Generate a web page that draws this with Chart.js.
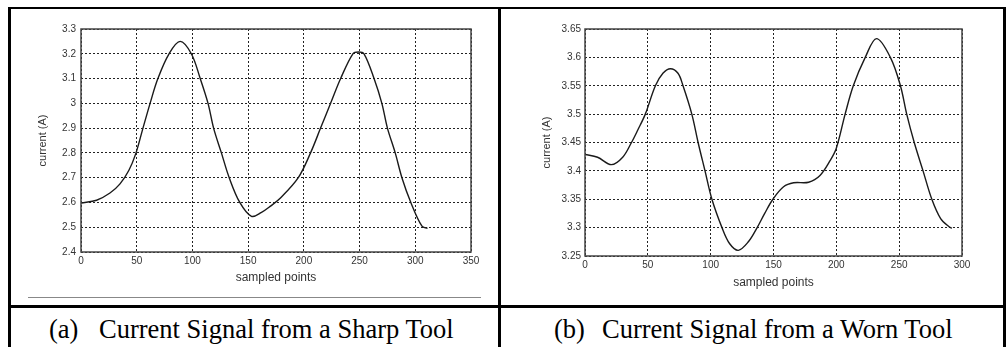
<!DOCTYPE html>
<html>
<head>
<meta charset="utf-8">
<script src="https://cdn.jsdelivr.net/npm/chart.js@4.4.1/dist/chart.umd.min.js"></script>
<style>
  html, body { margin: 0; padding: 0; background: #fff; }
  #page { position: relative; width: 1006px; height: 347px; overflow: hidden; }
  .panel { position: absolute; top: 0; height: 300px; }
  .rule { position: absolute; background: #000; z-index: 2; }
  .cap {
    position: absolute; top: 316px;
    font-family: "Liberation Serif", "Times New Roman", serif;
    font-size: 26.5px; line-height: 1; color: #000; white-space: nowrap;
  }
</style>
</head>
<body>
<div id="page">
  <div class="panel" style="left:0;width:500px"><canvas id="chartSharp"></canvas></div>
  <div class="panel" style="left:500px;width:506px"><canvas id="chartWorn"></canvas></div>

  <!-- table rules -->
  <div class="rule" style="left:8px;top:7px;width:998px;height:2px"></div>
  <div class="rule" style="left:8px;top:7px;width:3px;height:340px"></div>
  <div class="rule" style="left:498px;top:7px;width:3px;height:340px"></div>
  <div class="rule" style="left:1003px;top:7px;width:3px;height:340px"></div>
  <div class="rule" style="left:8px;top:305px;width:998px;height:3px"></div>
  <div class="rule" style="left:28px;top:297px;width:453px;height:1px;background:#888"></div>

  <div class="cap" style="left:49px">(a)</div>
  <div class="cap" style="left:99px">Current Signal from a Sharp Tool</div>
  <div class="cap" style="left:554px">(b)</div>
  <div class="cap" style="left:602px">Current Signal from a Worn Tool</div>
</div>

<script>
// sharp tool: sampled point index vs current (A)
const sharpX = [0, 14, 26, 35, 43, 49, 55, 62, 69, 79, 89, 99, 107, 114, 119, 126, 133, 142.5, 153,
  162, 170, 179, 195, 206, 215, 224, 233, 244, 249, 254, 263, 270, 275, 282, 288, 296, 306, 311];
const sharpY = [2.598, 2.609, 2.638, 2.675, 2.73, 2.795, 2.89, 3.0, 3.1, 3.2, 3.25, 3.2, 3.1, 3.0, 2.9, 2.8, 2.7, 2.6, 2.544,
  2.56, 2.585, 2.618, 2.7, 2.8, 2.9, 3.0, 3.1, 3.2, 3.207, 3.2, 3.1, 3.0, 2.9, 2.8, 2.7, 2.6, 2.504, 2.495];

// worn tool
const wornX = [0, 10, 21, 30, 37, 42, 48, 56, 62, 68, 74, 78, 85, 90, 95.5, 101, 109, 115, 122, 130, 137, 143,
  149.5, 158, 166, 178, 187, 195, 200, 207, 213.5, 223, 232, 243, 251, 256, 262, 269, 276, 283, 290, 292];
const wornY = [3.429, 3.424, 3.411, 3.424, 3.45, 3.472, 3.5, 3.55, 3.572, 3.58, 3.572, 3.55, 3.5, 3.45, 3.4, 3.35, 3.3,
  3.272, 3.26, 3.275, 3.3, 3.325, 3.35, 3.372, 3.379, 3.38, 3.392, 3.418, 3.44, 3.5, 3.55, 3.6, 3.633, 3.6, 3.55,
  3.5, 3.45, 3.4, 3.35, 3.316, 3.301, 3.299];

const sharpXTicks = [0, 50, 100, 150, 200, 250, 300, 350];
const sharpYTicks = [2.4, 2.5, 2.6, 2.7, 2.8, 2.9, 3.0, 3.1, 3.2, 3.3];
const wornXTicks = [0, 50, 100, 150, 200, 250, 300];
const wornYTicks = [3.25, 3.3, 3.35, 3.4, 3.45, 3.5, 3.55, 3.6, 3.65];

const xTitle = "sampled points";
const yTitle = "current (A)";

const TICK_FONT = { family: "'Liberation Sans', Arial, sans-serif", size: 10 };
const TITLE_FONT = { family: "'Liberation Sans', Arial, sans-serif", size: 12 };
const YTITLE_FONT = { family: "'Liberation Sans', Arial, sans-serif", size: 11 };

// MATLAB-style box around the axes
const boxPlugin = {
  id: "box",
  afterDatasetsDraw(chart) {
    const { ctx, chartArea: a } = chart;
    ctx.save();
    ctx.strokeStyle = "#444";
    ctx.lineWidth = 1.5;
    ctx.strokeRect(a.left, a.top, a.right - a.left, a.bottom - a.top);
    ctx.restore();
  },
};

function makeChart(id, xs, ys, xTicks, yTicks, lay) {
  const points = xs.map((x, i) => ({ x, y: ys[i] }));
  const fix = (arr) => (scale) => { scale.ticks = arr.map((v) => ({ value: v })); };
  return new Chart(document.getElementById(id), {
    type: "line",
    data: {
      datasets: [{
        data: points,
        borderColor: "#1a1a1a",
        borderWidth: 1.4,
        pointRadius: 0,
        tension: 0.35,
        fill: false,
      }],
    },
    options: {
      responsive: true,
      maintainAspectRatio: false,
      animation: false,
      layout: { padding: { left: 0, top: lay.top, right: lay.right, bottom: 0 } },
      plugins: { legend: { display: false }, tooltip: { enabled: false } },
      scales: {
        x: {
          type: "linear",
          min: xTicks[0],
          max: xTicks[xTicks.length - 1],
          afterBuildTicks: fix(xTicks),
          afterFit: (s) => { s.height = lay.xAxisH; },
          grid: { color: "#222", lineWidth: 1, drawTicks: false },
          border: { display: false, dash: [2, 2] },
          ticks: { color: "#333", font: TICK_FONT, padding: 3, maxRotation: 0 },
          title: { display: true, text: xTitle, color: "#333", font: TITLE_FONT, padding: { top: 0, bottom: lay.xTitlePad } },
        },
        y: {
          type: "linear",
          min: yTicks[0],
          max: yTicks[yTicks.length - 1],
          afterBuildTicks: fix(yTicks),
          afterFit: (s) => { s.width = lay.yAxisW; },
          grid: { color: "#222", lineWidth: 1, drawTicks: false },
          border: { display: false, dash: [2, 2] },
          ticks: {
            color: "#333", font: TICK_FONT, padding: lay.yTickPad,
            callback: (v) => String(+v.toFixed(2)),
          },
          title: { display: true, text: yTitle, color: "#333", font: YTITLE_FONT, padding: { top: lay.yTitlePad, bottom: 0 } },
        },
      },
    },
    plugins: [boxPlugin],
  });
}

makeChart("chartSharp", sharpX, sharpY, sharpXTicks, sharpYTicks,
  { top: 29, right: 29, xAxisH: 48, yAxisW: 81, yTickPad: 5, xTitlePad: 15, yTitlePad: 36 });
makeChart("chartWorn", wornX, wornY, wornXTicks, wornYTicks,
  { top: 29, right: 44, xAxisH: 44, yAxisW: 85, yTickPad: 4, xTitlePad: 10, yTitlePad: 40 });
</script>
</body>
</html>
